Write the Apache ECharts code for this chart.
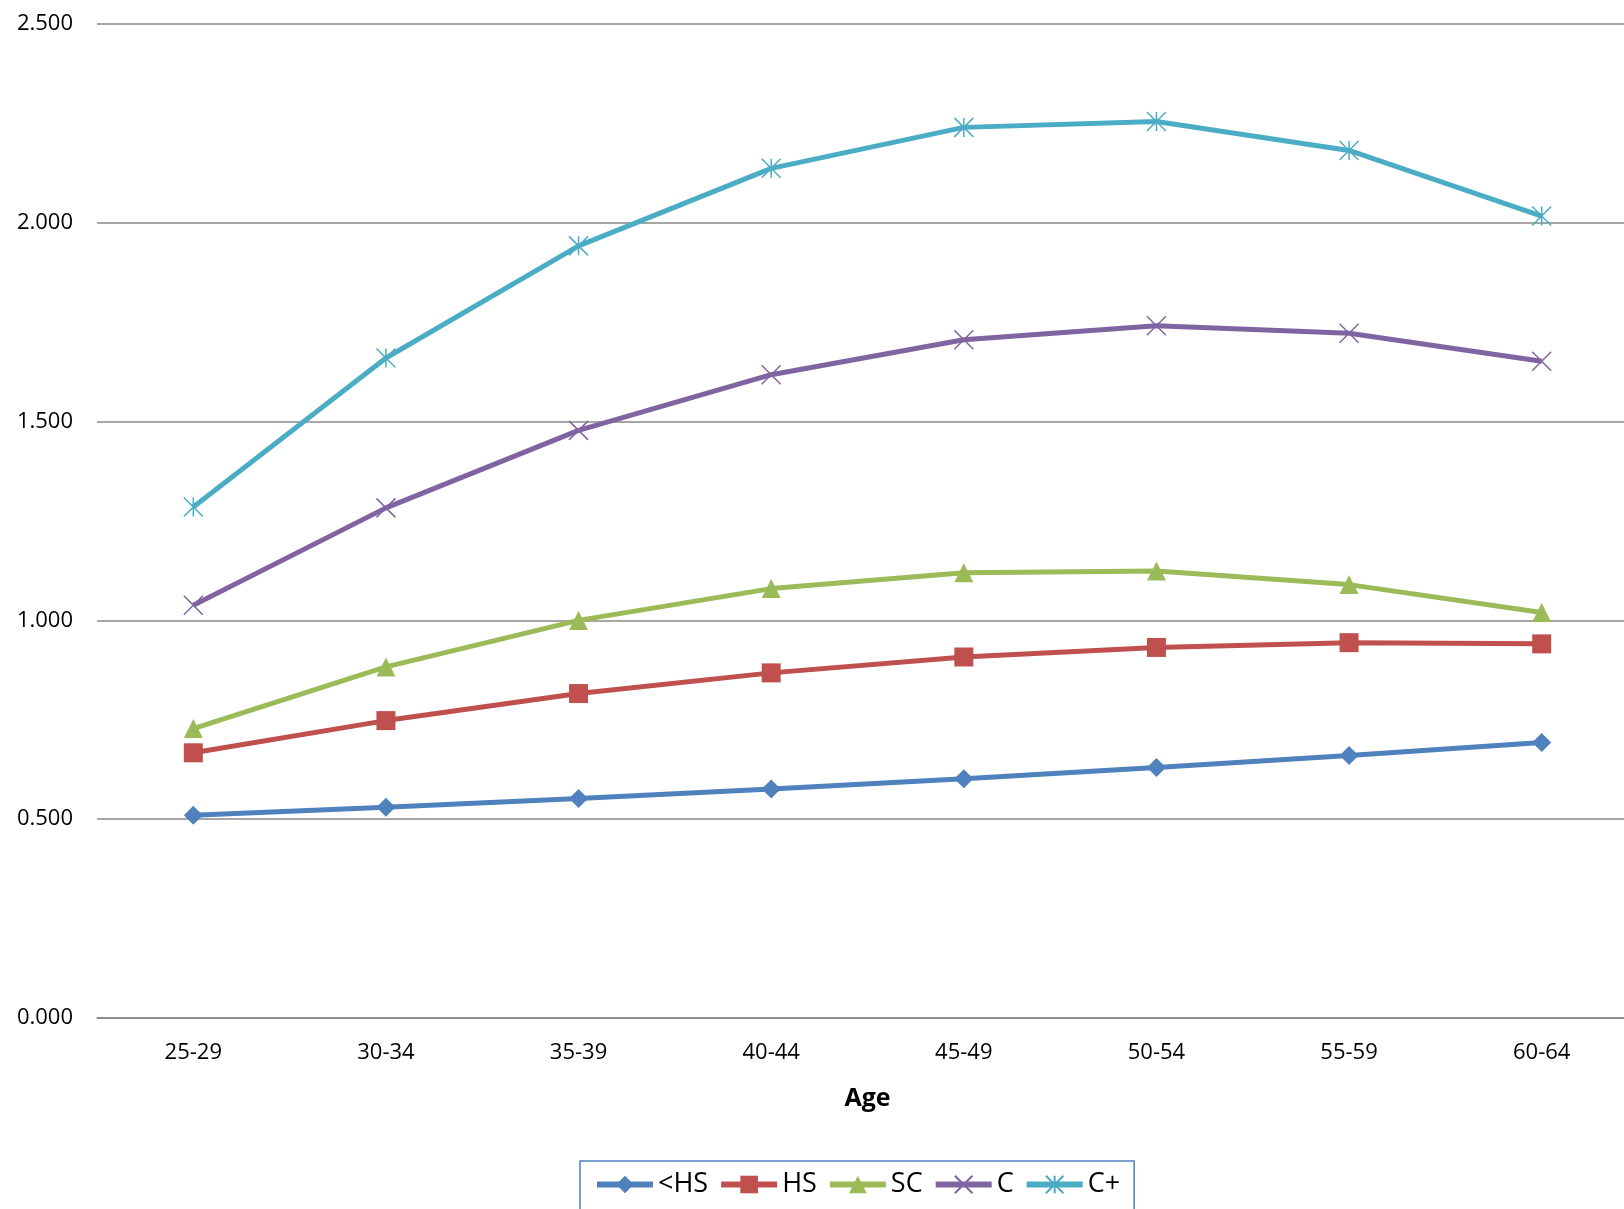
<!DOCTYPE html>
<html>
<head>
<meta charset="utf-8">
<script src="https://cdn.jsdelivr.net/npm/echarts@6/dist/echarts.min.js"></script>
<style>
  html, body { margin: 0; padding: 0; background: #fff; overflow: hidden; }
  #chart { width: 1638px; height: 1209px; }
</style>
</head>
<body>
<div id="chart"></div>
<script>
const ages = ['25-29', '30-34', '35-39', '40-44', '45-49', '50-54', '55-59', '60-64'];
const lessHS = [0.510, 0.530, 0.552, 0.576, 0.602, 0.630, 0.660, 0.693];
const hs = [0.667, 0.748, 0.816, 0.868, 0.908, 0.932, 0.944, 0.941];
const sc = [0.728, 0.883, 1.000, 1.080, 1.120, 1.124, 1.090, 1.020];
const col = [1.038, 1.283, 1.478, 1.618, 1.706, 1.741, 1.722, 1.652];
const colPlus = [1.285, 1.660, 1.942, 2.137, 2.240, 2.255, 2.182, 2.017];

const crossPath = 'path://M0,0L10,10M10,0L0,10';
const starPath = 'path://M0,0L10,10M10,0L0,10M5,0L5,10';

function mk(name, data, color, symbol, size, hollow) {
  return {
    name, type: 'line', data,
    symbol, symbolSize: size,
    lineStyle: { color, width: 5 },
    itemStyle: hollow
      ? { color: 'transparent', borderColor: color, borderWidth: 1.5 }
      : { color, borderColor: color, borderWidth: 0 },
    emphasis: { disabled: true }
  };
}

const chart = echarts.init(document.getElementById('chart'));
chart.setOption({
  animation: false,
  textStyle: { fontFamily: 'Open Sans' },
  grid: { left: 97, right: 0, top: 24, bottom: 191 },
  legend: {
    bottom: -3, left: 580,
    padding: [10, 14, 14, 14],
    borderColor: '#4F81BD', borderWidth: 1.5,
    itemWidth: 56, itemHeight: 22, itemGap: 10,
    lineStyle: { width: 6 },
    textStyle: { fontSize: 27, color: '#000', fontFamily: 'Open Sans' },
    data: ['<HS', 'HS', 'SC', 'C', 'C+']
  },
  xAxis: {
    type: 'category', data: ages, boundaryGap: true,
    name: 'Age', nameLocation: 'middle', nameGap: 68,
    nameTextStyle: { fontSize: 25, fontWeight: 'bold', color: '#000' },
    axisLine: { lineStyle: { color: '#888', width: 1.5 } },
    axisTick: { show: false },
    axisLabel: { fontSize: 22, color: '#000', margin: 24 }
  },
  yAxis: {
    type: 'value', min: 0, max: 2.5, interval: 0.5,
    axisLine: { show: false }, axisTick: { show: false },
    splitLine: { lineStyle: { color: '#888', width: 1.5 } },
    axisLabel: { fontSize: 22, color: '#000', margin: 24, formatter: v => v.toFixed(3) }
  },
  series: [
    mk('<HS', lessHS, '#4F81BD', 'diamond', 19, false),
    mk('HS', hs, '#C0504D', 'rect', 19, false),
    mk('SC', sc, '#9BBB59', 'triangle', 19, false),
    mk('C', col, '#8064A2', crossPath, 19, true),
    mk('C+', colPlus, '#4BACC6', starPath, 19, true)
  ]
});
</script>
</body>
</html>
